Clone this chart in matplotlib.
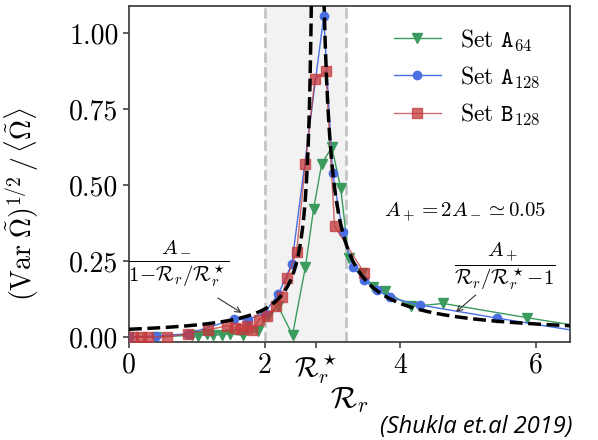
import numpy as np
import matplotlib
matplotlib.use("Agg")
import matplotlib.pyplot as plt

plt.rcParams['font.family'] = 'serif'
plt.rcParams['font.serif'] = ['cmr10']
plt.rcParams['mathtext.fontset'] = 'cm'
plt.rcParams['axes.formatter.use_mathtext'] = True

# Set A64 (green triangles)
a64_x = [0.0, 0.4, 0.93, 1.02, 1.15, 1.24, 1.37, 1.49, 1.68, 1.9, 2.05, 2.2, 2.41,
         2.6, 2.72, 2.84, 2.99, 3.12, 3.24, 3.44, 3.59, 3.78, 4.16, 4.63, 5.87, 7.0]
a64_y = [0.0, 0.0, 0.005, 0.004, 0.008, 0.006, 0.007, 0.01, 0.005, 0.02, 0.07, 0.1, 0.006,
         0.23, 0.42, 0.57, 0.625, 0.49, 0.26, 0.21, 0.165, 0.15, 0.10, 0.11, 0.063, 0.022]

# Set A128 (blue circles)
a128_x = [0.0, 0.4, 0.87, 1.55, 1.75, 2.0, 2.2, 2.4, 2.87, 3.0, 3.15, 3.3, 3.47,
          3.65, 3.84, 4.29, 5.42, 7.0]
a128_y = [0.0, 0.003, 0.01, 0.058, 0.056, 0.08, 0.14, 0.24, 1.056, 0.54, 0.345, 0.23, 0.187,
          0.155, 0.13, 0.105, 0.062, 0.005]

# Set B128 (red squares)
b128_x = [0.06, 0.18, 0.28, 0.56, 0.87, 1.16, 1.44, 1.56, 1.65, 1.74, 1.82, 1.91,
          2.04, 2.17, 2.25, 2.33, 2.47, 2.6, 2.74, 2.9, 3.03, 3.47]
b128_y = [0.0, 0.0, 0.0, 0.0, 0.01, 0.023, 0.036, 0.03, 0.026, 0.036, 0.023, 0.056,
          0.07, 0.1, 0.13, 0.195, 0.28, 0.57, 0.85, 0.875, 0.365, 0.21]

# model curve parameters
A_minus = 0.025
A_plus = 0.05
R_star = 2.75

fig = plt.figure(figsize=(5.98, 4.4), dpi=100)
ax = fig.add_axes([0.2157, 0.2227, 0.7375, 0.7637])

ax.axvspan(2.0, 3.2, color='#f2f2f2', zorder=0)
ax.axvline(2.0, color='#c4c4c4', ls='--', lw=2, zorder=1)
ax.axvline(3.2, color='#c4c4c4', ls='--', lw=2, zorder=1)

ax.plot(a64_x, a64_y, color='#3b9b5e', marker='v', ms=7, lw=1, label=r'Set $\mathtt{A}_{\mathtt{64}}$', zorder=2)
ax.plot(a128_x, a128_y, color='#4a6fe3', marker='o', ms=6, lw=1, label=r'Set $\mathtt{A}_{\mathtt{128}}$', zorder=3)
ax.plot(b128_x, b128_y, color='#c4393b', marker='s', ms=6.5, lw=1, alpha=0.75, label=r'Set $\mathtt{B}_{\mathtt{128}}$', zorder=4)

# model curves
r_left = np.linspace(0, R_star * 0.99, 400)
r_right = np.linspace(R_star * 1.01, 6.6, 400)
ax.plot(r_left, A_minus / (1 - r_left / R_star), 'k--', lw=2.5, zorder=5)
ax.plot(r_right, A_plus / (r_right / R_star - 1), 'k--', lw=2.5, zorder=5)

ax.set_xlim(0, 6.5)
ax.set_ylim(-0.017, 1.09)
ax.set_xticks([0, 2, R_star, 4, 6])
ax.set_xticklabels(['0', '2', r'$\mathcal{R}_r^\star$', '4', '6'])
ax.set_yticks([0, 0.25, 0.5, 0.75, 1.0])
ax.set_yticklabels(['0.00', '0.25', '0.50', '0.75', '1.00'])
ax.tick_params(labelsize=20, length=4, width=1.2, color='#444444')
for s in ax.spines.values():
    s.set_color('#444444')
    s.set_linewidth(1.3)

ax.set_xlabel(r'$\mathcal{R}_r$', fontsize=22, labelpad=0)
ax.set_ylabel(r'$(\mathrm{Var}\;\tilde{\Omega})^{1/2}\,/\,\langle\tilde{\Omega}\rangle$', fontsize=20)
ax.yaxis.set_label_coords(-0.2, 0.41)

ax.legend(loc='upper right', frameon=False, fontsize=17, handlelength=2.0,
          bbox_to_anchor=(0.98, 1.0))

ax.text(4.95, 0.41, r'$A_+ = 2A_- \simeq 0.05$', fontsize=15, ha='center', va='center')

# fraction labels with arrows
ax.text(0.73, 0.24, r'$\dfrac{A_-}{1\!-\!\mathcal{R}_r/\mathcal{R}_r^\star}$',
        fontsize=15, ha='center', va='center')
ax.annotate('', xy=(1.66, 0.079), xytext=(1.31, 0.128),
            arrowprops=dict(arrowstyle='->', color='#333333', lw=0.8, shrinkA=0, shrinkB=0))
ax.text(5.54, 0.233, r'$\dfrac{A_+}{\mathcal{R}_r/\mathcal{R}_r^\star\!-\!1}$',
        fontsize=15, ha='center', va='center')
ax.annotate('', xy=(4.82, 0.082), xytext=(5.11, 0.138),
            arrowprops=dict(arrowstyle='->', color='#333333', lw=0.8, shrinkA=0, shrinkB=0))

fig.text(0.958, 0.03, '(Shukla et.al 2019)', fontsize=17, style='italic',
         family='Open Sans', ha='right', va='center')

fig.savefig('out.png', dpi=100)
